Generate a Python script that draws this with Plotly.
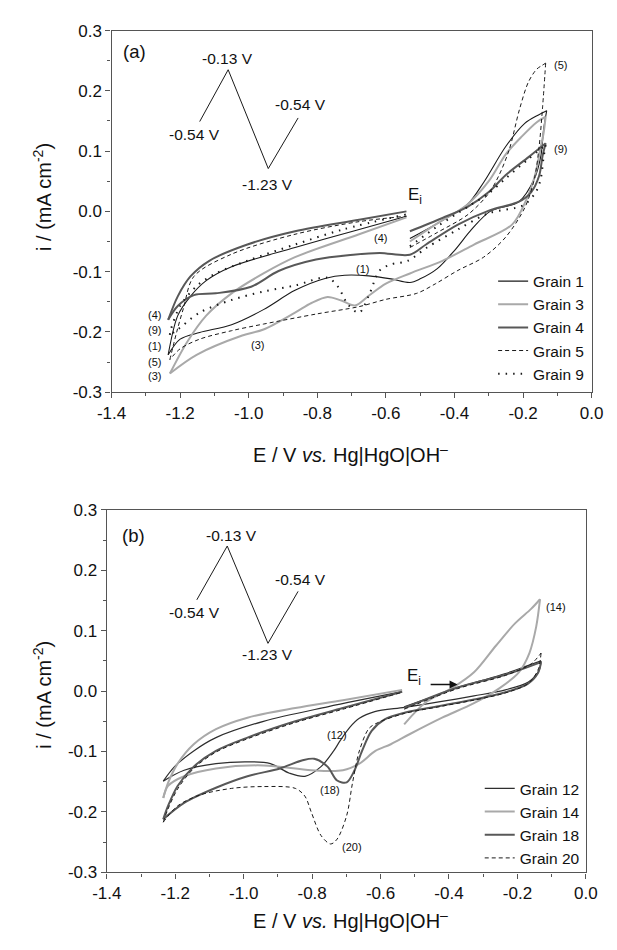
import plotly.graph_objects as go

# ---------------- data: panel (a) ----------------
G1_E = [-0.53, -0.45, -0.363, -0.315, -0.25, -0.195, -0.155, -0.131,
        -0.14, -0.148, -0.167, -0.212, -0.296, -0.35, -0.40, -0.45, -0.50, -0.53, -0.585, -0.65, -0.72, -0.775, -0.865, -0.957, -1.05, -1.143, -1.20, -1.235,
        -1.207, -1.17, -1.124, -1.05, -0.865, -0.678, -0.54]
G1_I = [-0.045, -0.02, 0.011, 0.048, 0.108, 0.146, 0.160, 0.167,
        0.136, 0.092, 0.054, 0.016, 0.0, -0.03, -0.065, -0.095, -0.112, -0.118, -0.112, -0.107, -0.106, -0.111, -0.131, -0.163, -0.188, -0.201, -0.212, -0.238,
        -0.173, -0.141, -0.115, -0.092, -0.060, -0.030, -0.008]

G3_E = [-0.53, -0.45, -0.363, -0.30, -0.25, -0.204, -0.16, -0.134,
        -0.14, -0.148, -0.165, -0.19, -0.232, -0.343, -0.435, -0.53, -0.60, -0.65, -0.69, -0.73, -0.77, -0.817, -0.865, -0.957, -1.019, -1.152, -1.23,
        -1.18, -1.124, -1.05, -0.957, -0.865, -0.678, -0.54]
G3_I = [-0.05, -0.02, 0.011, 0.05, 0.095, 0.124, 0.148, 0.157,
        0.13, 0.108, 0.06, 0.02, -0.022, -0.055, -0.082, -0.103, -0.12, -0.140, -0.156, -0.148, -0.142, -0.152, -0.168, -0.196, -0.206, -0.238, -0.269,
        -0.217, -0.173, -0.136, -0.103, -0.076, -0.038, -0.010]

G4_E = [-0.53, -0.435, -0.363, -0.30, -0.251, -0.184, -0.134,
        -0.143, -0.153, -0.176, -0.212, -0.296, -0.39, -0.483, -0.53, -0.618, -0.695, -0.804, -0.913, -0.993, -1.096, -1.16, -1.207, -1.235,
        -1.207, -1.17, -1.115, -1.004, -0.865, -0.678, -0.54]
G4_I = [-0.033, -0.011, 0.007, 0.032, 0.060, 0.090, 0.113,
        0.092, 0.059, 0.032, 0.016, 0.002, -0.022, -0.055, -0.072, -0.069, -0.072, -0.080, -0.099, -0.125, -0.136, -0.139, -0.157, -0.180,
        -0.141, -0.108, -0.082, -0.055, -0.033, -0.014, 0.0]

G5_E = [-0.53, -0.45, -0.36, -0.30, -0.27, -0.24, -0.21, -0.184, -0.16, -0.145, -0.134,
        -0.143, -0.153, -0.167, -0.195, -0.251, -0.315, -0.39, -0.455, -0.51, -0.60, -0.678, -0.80, -0.957, -1.05, -1.143, -1.20, -1.23,
        -1.21, -1.19, -1.16, -1.05, -0.865, -0.678, -0.54]
G5_I = [-0.06, -0.035, -0.005, 0.03, 0.06, 0.103, 0.17, 0.215, 0.236, 0.242, 0.246,
        0.173, 0.108, 0.054, 0.006, -0.043, -0.076, -0.098, -0.120, -0.136, -0.146, -0.158, -0.170, -0.187, -0.198, -0.212, -0.228, -0.246,
        -0.200, -0.160, -0.108, -0.071, -0.038, -0.017, -0.008]

G9_E = [-0.53, -0.45, -0.363, -0.30, -0.25, -0.184, -0.134,
        -0.14, -0.15, -0.165, -0.20, -0.30, -0.39, -0.48, -0.536, -0.585, -0.618, -0.65, -0.678, -0.71, -0.74, -0.771, -0.865, -0.957, -1.05, -1.143, -1.207, -1.23,
        -1.227, -1.20, -1.152, -1.096, -1.004, -0.865, -0.725, -0.54]
G9_I = [-0.058, -0.025, 0.007, 0.030, 0.055, 0.087, 0.110,
        0.090, 0.050, 0.030, 0.010, -0.003, -0.030, -0.060, -0.082, -0.088, -0.098, -0.140, -0.168, -0.155, -0.125, -0.110, -0.123, -0.133, -0.147, -0.168, -0.196, -0.205,
        -0.196, -0.157, -0.124, -0.103, -0.082, -0.055, -0.030, -0.005]

# ---------------- data: panel (b) ----------------
G12_E = [-0.531, -0.45, -0.375, -0.30, -0.235, -0.18, -0.131,
         -0.137, -0.168, -0.235, -0.327, -0.43, -0.53, -0.617, -0.662, -0.69, -0.718, -0.737, -0.774, -0.821, -0.866, -0.922, -0.989, -1.081, -1.174, -1.235,
         -1.202, -1.146, -1.081, -0.942, -0.755, -0.537]
G12_I = [-0.026, -0.010, 0.006, 0.018, 0.029, 0.040, 0.050,
         0.034, 0.015, 0.002, -0.008, -0.018, -0.027, -0.034, -0.045, -0.060, -0.082, -0.099, -0.125, -0.141, -0.136, -0.120, -0.117, -0.120, -0.131, -0.149,
         -0.125, -0.099, -0.077, -0.050, -0.026, -0.001]

G14_E = [-0.531, -0.467, -0.391, -0.327, -0.263, -0.207, -0.16, -0.134,
         -0.145, -0.165, -0.196, -0.252, -0.327, -0.42, -0.514, -0.57, -0.615, -0.662, -0.71, -0.802, -0.942, -1.081, -1.174, -1.221, -1.235,
         -1.221, -1.193, -1.146, -1.081, -0.989, -0.849, -0.71, -0.537]
G14_I = [-0.055, -0.018, 0.005, 0.031, 0.075, 0.112, 0.136, 0.152,
         0.107, 0.063, 0.031, 0.005, -0.020, -0.044, -0.071, -0.088, -0.099, -0.120, -0.131, -0.131, -0.123, -0.128, -0.141, -0.157, -0.177,
         -0.152, -0.120, -0.088, -0.063, -0.044, -0.028, -0.015, 0.002]

G18_E = [-0.531, -0.375, -0.235, -0.131,
         -0.14, -0.17, -0.235, -0.327, -0.43, -0.53, -0.588, -0.626, -0.654, -0.676, -0.699, -0.727, -0.755, -0.794, -0.83, -0.894, -0.989, -1.081, -1.174, -1.235,
         -1.221, -1.193, -1.146, -1.081, -0.989, -0.849, -0.71, -0.537]
G18_I = [-0.028, 0.006, 0.027, 0.048,
         0.030, 0.012, -0.002, -0.014, -0.025, -0.036, -0.047, -0.066, -0.099, -0.131, -0.151, -0.148, -0.125, -0.112, -0.115, -0.128, -0.141, -0.160, -0.185, -0.212,
         -0.190, -0.157, -0.125, -0.099, -0.077, -0.050, -0.028, -0.001]

G20_E = [-0.531, -0.375, -0.235, -0.16, -0.131,
         -0.14, -0.17, -0.235, -0.327, -0.43, -0.53, -0.607, -0.634, -0.662, -0.682, -0.699, -0.727, -0.746, -0.774, -0.802, -0.821, -0.849, -0.942, -1.035, -1.128, -1.193, -1.235,
         -1.221, -1.193, -1.146, -1.081, -0.989, -0.849, -0.71, -0.537]
G20_I = [-0.030, 0.004, 0.026, 0.045, 0.063,
         0.035, 0.012, -0.003, -0.015, -0.026, -0.037, -0.052, -0.062, -0.099, -0.152, -0.206, -0.245, -0.253, -0.239, -0.201, -0.174, -0.161, -0.158, -0.161, -0.172, -0.190, -0.217,
         -0.195, -0.162, -0.128, -0.101, -0.079, -0.052, -0.030, -0.002]

# inset potential programme (drawn in data units of each panel)
inset_a_E = [-1.143, -1.060, -0.943, -0.856]
inset_a_I = [0.149, 0.235, 0.071, 0.155]
inset_b_E = [-1.137, -1.048, -0.929, -0.841]
inset_b_I = [0.151, 0.240, 0.079, 0.165]

x_tickvals = [-1.4, -1.2, -1.0, -0.8, -0.6, -0.4, -0.2, 0.0]
x_ticktext = ["-1.4", "-1.2", "-1.0", "-0.8", "-0.6", "-0.4", "-0.2", "0.0"]
y_tickvals = [-0.3, -0.2, -0.1, 0.0, 0.1, 0.2, 0.3]
y_ticktext = ["-0.3", "-0.2", "-0.1", "0.0", "0.1", "0.2", "0.3"]

# ---------------- styles ----------------
BLACK = "#1a1a1a"
LGRAY = "#a9a9a9"
DGRAY = "#585858"
FONT = "Liberation Sans, Arial, sans-serif"

series_a = [
    ("Grain 1", G1_E, G1_I, dict(color=BLACK, width=1.1)),
    ("Grain 3", G3_E, G3_I, dict(color=LGRAY, width=2.0)),
    ("Grain 4", G4_E, G4_I, dict(color=DGRAY, width=2.0)),
    ("Grain 5", G5_E, G5_I, dict(color=BLACK, width=1.0, dash="4px,3px")),
    ("Grain 9", G9_E, G9_I, dict(color=BLACK, width=2.0, dash="1.5px,6px")),
]
series_b = [
    ("Grain 12", G12_E, G12_I, dict(color="#2e2e2e", width=1.2)),
    ("Grain 14", G14_E, G14_I, dict(color=LGRAY, width=2.0)),
    ("Grain 18", G18_E, G18_I, dict(color=DGRAY, width=2.0)),
    ("Grain 20", G20_E, G20_I, dict(color=BLACK, width=1.0, dash="4px,3px")),
]

fig = go.Figure()


def add_cv(name, E, I, line, xa, ya, legend):
    imax = max(range(len(E)), key=lambda k: E[k])
    imin = min(range(len(E)), key=lambda k: E[k])
    segs = [(0, imax), (imax, imin), (imin, len(E) - 1)]
    for n, (a, b) in enumerate(segs):
        fig.add_trace(go.Scatter(
            x=E[a:b + 1], y=I[a:b + 1], mode="lines", name=name,
            line=dict(shape="spline", smoothing=0.9, **line),
            legendgroup=name, showlegend=(n == 0), legend=legend,
            xaxis=xa, yaxis=ya, hoverinfo="skip"))


for name, E, I, ln in series_a:
    add_cv(name, E, I, ln, "x", "y", "legend")
for name, E, I, ln in series_b:
    add_cv(name, E, I, ln, "x2", "y2", "legend2")

for E, I, xa, ya in [(inset_a_E, inset_a_I, "x", "y"), (inset_b_E, inset_b_I, "x2", "y2")]:
    fig.add_trace(go.Scatter(x=E, y=I, mode="lines", line=dict(color=BLACK, width=1.0),
                             showlegend=False, xaxis=xa, yaxis=ya, hoverinfo="skip"))

# ---------------- axes ----------------
axis_common = dict(showgrid=False, zeroline=False, showline=True, mirror=True,
                   linecolor="#555555", linewidth=1.4, ticks="outside", ticklen=5,
                   tickwidth=1.2, tickcolor="#555555",
                   tickfont=dict(family=FONT, size=17, color="#111111"))
xa = dict(axis_common, range=[-1.4, 0.0], tickvals=x_tickvals, ticktext=x_ticktext,
          minor=dict(ticks="outside", ticklen=3, dtick=0.1, tick0=0, tickcolor="#555555", tickwidth=1.2))
ya = dict(axis_common, range=[-0.3, 0.3], tickvals=y_tickvals, ticktext=y_ticktext,
          minor=dict(ticks="outside", ticklen=3, dtick=0.05, tick0=0, tickcolor="#555555", tickwidth=1.2))

W, H = 617, 950
LEGFONT = dict(family=FONT, size=15.5, color="#111111")
fig.update_layout(
    width=W, height=H, margin=dict(l=0, r=0, t=0, b=0),
    paper_bgcolor="white", plot_bgcolor="white",
    font=dict(family=FONT, color="#111111"),
    xaxis=dict(xa, domain=[101 / W, 603 / W], anchor="y"),
    yaxis=dict(ya, domain=[1 - 391 / H, 1 - 22 / H], anchor="x"),
    xaxis2=dict(xa, domain=[96 / W, 597 / W], anchor="y2"),
    yaxis2=dict(ya, domain=[1 - 881 / H, 1 - 511 / H], anchor="x2"),
    legend=dict(x=500 / W, y=1 - 325 / H, xanchor="left", yanchor="middle",
                bgcolor="rgba(0,0,0,0)", font=LEGFONT, tracegroupgap=0, itemclick=False),
    legend2=dict(x=486 / W, y=1 - 831 / H, xanchor="left", yanchor="middle",
                 bgcolor="rgba(0,0,0,0)", font=LEGFONT, tracegroupgap=0, itemclick=False),
    showlegend=True,
)

ann = []


def txt(x, y, s, size, xr="x", yr="y", **kw):
    ann.append(dict(x=x, y=y, xref=xr, yref=yr, text=s, showarrow=False,
                    xanchor="center", yanchor="middle",
                    font=dict(family=FONT, size=size, color="#111111"), **kw))


# panel (a) texts
txt(-1.333, 0.266, "(a)", 18.5)
txt(-1.063, 0.254, "-0.13 V", 15.5)
txt(-1.157, 0.128, "-0.54 V", 15.5)
txt(-0.848, 0.178, "-0.54 V", 15.5)
txt(-0.944, 0.045, "-1.23 V", 15.5)
txt(-0.516, 0.025, "E<sub>i</sub>", 17)
for (lx, ly, s) in [(-1.274, -0.172, "(4)"), (-1.274, -0.197, "(9)"), (-1.274, -0.224, "(1)"),
                    (-1.274, -0.250, "(5)"), (-1.274, -0.273, "(3)"), (-0.975, -0.222, "(3)"),
                    (-0.667, -0.095, "(1)"), (-0.616, -0.045, "(4)"), (-0.092, 0.243, "(5)"),
                    (-0.092, 0.103, "(9)")]:
    txt(lx, ly, s, 11)

# panel (b) texts
txt(-1.322, 0.258, "(b)", 18.5, "x2", "y2")
txt(-1.037, 0.258, "-0.13 V", 15.5, "x2", "y2")
txt(-1.143, 0.130, "-0.54 V", 15.5, "x2", "y2")
txt(-0.833, 0.185, "-0.54 V", 15.5, "x2", "y2")
txt(-0.929, 0.060, "-1.23 V", 15.5, "x2", "y2")
txt(-0.503, 0.024, "E<sub>i</sub>", 17, "x2", "y2")
for (lx, ly, s) in [(-0.087, 0.139, "(14)"), (-0.727, -0.073, "(12)"),
                    (-0.749, -0.163, "(18)"), (-0.682, -0.258, "(20)")]:
    txt(lx, ly, s, 11, "x2", "y2")
ann.append(dict(x=-0.375, y=0.011, ax=-0.458, ay=0.011, xref="x2", yref="y2",
                axref="x2", ayref="y2", showarrow=True, arrowhead=2, arrowsize=1.0,
                arrowwidth=1.6, arrowcolor="#111111", text=""))

# axis titles
for yc, xt in [(192, 454), (700, 929)]:
    ann.append(dict(x=28 / W, y=1 - yc / H, xref="paper", yref="paper", showarrow=False,
                    xanchor="center", yanchor="middle",
                    text="i / (mA cm<sup>-2</sup>)", textangle=-90,
                    font=dict(family=FONT, size=20, color="#111111")))
    ann.append(dict(x=351 / W, y=1 - xt / H, xref="paper", yref="paper", showarrow=False,
                    xanchor="center", yanchor="middle",
                    text="E / V <i>vs.</i> Hg|HgO|OH<sup>\u2013</sup>",
                    font=dict(family=FONT, size=20, color="#111111")))

fig.update_layout(annotations=ann)
fig.write_html("out.html")
